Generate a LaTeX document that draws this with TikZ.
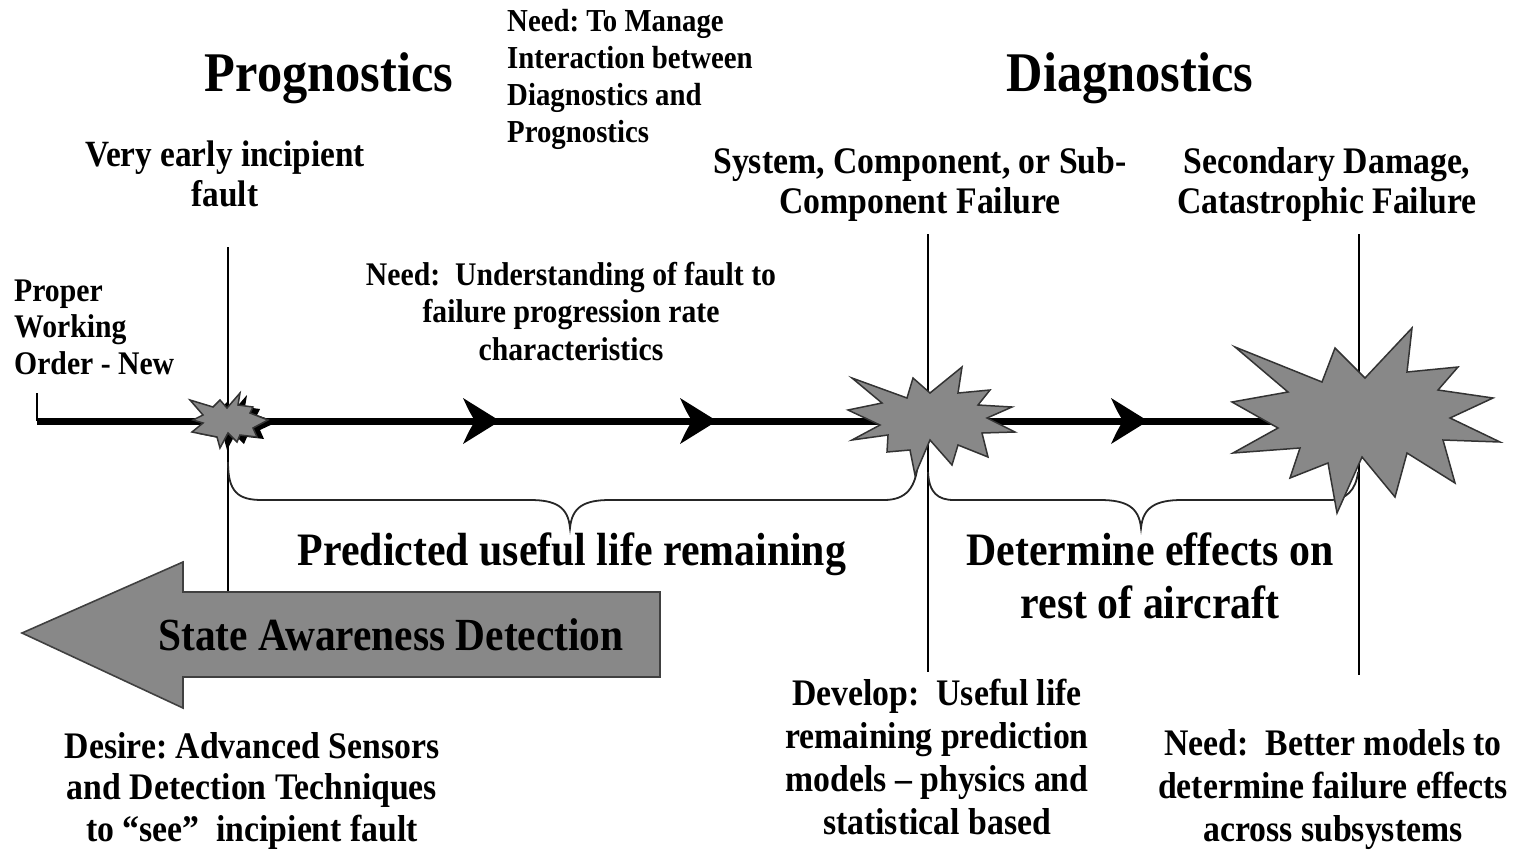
\documentclass[tikz,border=0pt]{standalone}
\usepackage{fontspec}
\setmainfont{Liberation Serif}[FakeStretch=0.9]
\newcommand\fsz[2]{\frenchspacing\bfseries\fontsize{#1}{#2}\selectfont}
\definecolor{burstgray}{HTML}{888888}
\begin{document}
\begin{tikzpicture}[x=1pt,y=-1pt,
  % multi-line texts: base anchor sits on the last line
  txt/.style={inner sep=0pt, align=center, anchor=base},
  txtl/.style={inner sep=0pt, align=left, anchor=base west},
  thin line/.style={draw=black, line width=1.6pt},
  brace line/.style={draw=black!85, line width=1.8pt},
  timeline/.style={draw=black, line width=7pt},
  burst/.style={fill=burstgray, draw=black!80, line width=1.5pt, line join=miter},
  bigarrow/.style={fill=burstgray, draw=black!75, line width=1.6pt, line join=miter},
  headpic/.pic={\fill[black] (0,0) -- (-37,-23) .. controls (-31,-10) .. (-25,0)
                 .. controls (-31,10) .. (-37,23) -- cycle;}
]
\useasboundingbox (0,0) rectangle (1517,849);

% reference points on the time line
\coordinate (start) at (37,421);
\coordinate (tick) at (37,393);
\coordinate (lineend) at (1290,421);

% vertical markers
\coordinate (m1top) at (228,247);
\coordinate (m1bot) at (228,592);
\coordinate (m2top) at (928,234);
\coordinate (m2bot) at (928,672);
\coordinate (m3top) at (1359,234);
\coordinate (m3bot) at (1359,675);
\draw[thin line] (m1top) -- (m1bot);
\draw[thin line] (m2top) -- (m2bot);
\draw[thin line] (m3top) -- (m3bot);

% braces under the time line
\draw[brace line] (228,462) .. controls (228,492) and (238,500) .. (262,500)
  -- (530,500) .. controls (556,500) and (568,507) .. (570,528)
  .. controls (572,507) and (584,500) .. (610,500) -- (884,500)
  .. controls (906,500) and (916,488) .. (918,462);
\draw[brace line] (928,472) .. controls (929,493) and (938,500) .. (954,500)
  -- (1100,500) .. controls (1126,500) and (1139,507) .. (1141,528)
  .. controls (1143,507) and (1156,500) .. (1182,500) -- (1330,500)
  .. controls (1346,500) and (1356,490) .. (1358,472);

% time line
\draw[thin line] (tick) -- (start);
\draw[timeline] (start) -- (lineend);
\pic at (500,421) {headpic};
\pic at (717,421) {headpic};
\pic at (1148,421) {headpic};

% small burst: incipient fault
\fill[black] plot[shift={(7,2)}] coordinates {(190,400) (213,407) (220,400) (227,408) (240,393)
  (238,405) (253,407) (250,413) (270,420) (253,428) (257,437) (240,435) (237,442)
  (228,433) (220,448) (217,437) (192,432) (203,423) (193,420) (203,415)} -- cycle;
\draw[burst] plot coordinates {(190,400) (213,407) (220,400) (227,408) (240,393)
  (238,405) (253,407) (250,413) (268,420) (253,428) (257,437) (240,435) (237,442)
  (228,433) (220,448) (217,437) (192,432) (203,423) (193,420) (203,415)} -- cycle;

% medium burst: component failure
\draw[burst] plot coordinates {(852,378) (907,398) (913,378) (930,393) (962,367)
  (958,393) (990,390) (978,405) (1012,407) (987,418) (1015,432) (982,433)
  (988,457) (958,445) (952,465) (930,440) (915,475) (910,450) (887,452)
  (888,435) (852,440) (880,425) (848,410) (882,403)} -- cycle;

% large burst: catastrophic failure
\draw[burst] plot coordinates {(1235,347) (1322,382) (1335,348) (1365,378) (1412,328)
  (1407,372) (1458,367) (1438,390) (1493,398) (1450,418) (1500,442) (1443,440)
  (1455,483) (1407,453) (1395,497) (1362,457) (1337,513) (1328,463) (1290,478)
  (1300,448) (1233,453) (1278,428) (1232,402) (1288,392)} -- cycle;

% state awareness arrow
\draw[bigarrow] (660,592) -- (183,592) -- (183,562) -- (22,633) -- (183,708)
  -- (183,677) -- (660,677) -- cycle;
\node[txt, font=\fsz{46}{50}] (sad) at (391,650) {State Awareness Detection};

% headings
\node[txt, font=\fsz{56}{60}] (prog) at (329,91) {Prognostics};
\node[txt, font=\fsz{56}{60}] (diag) at (1130,91) {Diagnostics};

% upper labels
\node[txt, font=\fsz{37}{40}] (early) at (225,206) {Very early incipient\\fault};
\node[txtl, font=\fsz{32}{36.7}] (manage) at (507,142)
  {Need: To Manage\\Interaction between\\Diagnostics and\\Prognostics};
\node[txtl, font=\fsz{33}{36.5}] (proper) at (14,374) {Proper\\Working\\Order - New};
\node[txt, font=\fsz{33}{37.5}] (understand) at (571,360)
  {Need:\ \ Understanding of fault to\\failure progression rate\\characteristics};
\node[txt, font=\fsz{37.5}{40}] (compfail) at (920,213)
  {System, Component, or Sub-\\Component Failure};
\node[txt, font=\fsz{37.5}{40}] (catfail) at (1327,213)
  {Secondary Damage,\\Catastrophic Failure};

% brace labels
\node[txt, font=\fsz{46.5}{53}] (pulr) at (572,565) {Predicted useful life remaining};
\node[txt, font=\fsz{46.5}{53}] (effects) at (1150,618) {Determine effects on\\rest of aircraft};

% lower labels
\node[txt, font=\fsz{37.5}{41.5}] (desire) at (252,841)
  {Desire: Advanced Sensors\\and Detection Techniques\\to “see”\ \ incipient fault};
\node[txt, font=\fsz{37.5}{42.7}] (develop) at (937,834)
  {Develop:\ \ Useful life\\remaining prediction\\models – physics and\\statistical based};
\node[txt, font=\fsz{37.5}{43}] (better) at (1333,841)
  {Need:\ \ Better models to\\determine failure effects\\across subsystems};
\end{tikzpicture}
\end{document}
